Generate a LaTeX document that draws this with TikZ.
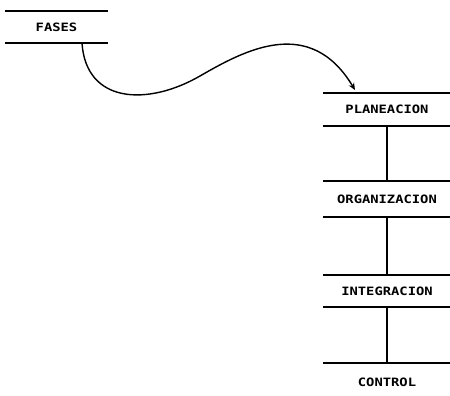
\documentclass[tikz,border=0pt]{standalone}
\usepackage{fontspec}
\newfontfamily\dfont{DejaVu Sans Mono}[FakeStretch=1.2]
\usetikzlibrary{arrows.meta}
\begin{document}
\begin{tikzpicture}[x=1pt,y=-1pt,
  phase/.style={inner sep=0pt,minimum width=127pt,minimum height=#1,
    font=\dfont\bfseries\fontsize{11.5}{13}\selectfont},
  rule/.style={line width=1.6pt},
  link/.style={line width=1.4pt}]
\useasboundingbox (0,0) rectangle (450,396);
\node[phase=32pt,minimum width=103pt] (fases) at (56.5,27) {FASES};
\node[phase=33pt] (plan) at (387,109.5) {PLANEACION};
\node[phase=36pt] (org) at (387,199) {ORGANIZACION};
\node[phase=32pt] (integ) at (387,291) {INTEGRACION};
\node[phase=38pt] (ctrl) at (387,382) {CONTROL};
\foreach \n in {fases,plan,org,integ}{
  \draw[rule] (\n.north west) -- (\n.north east);
  \draw[rule] (\n.south west) -- (\n.south east);
}
\draw[rule] (ctrl.north west) -- (ctrl.north east);
\draw[link] (plan.south) -- (org.north);
\draw[link] (org.south) -- (integ.north);
\draw[link] (integ.south) -- (ctrl.north);
\coordinate (start) at (82,43);
\coordinate (mid) at (200,76);
\coordinate (tip) at (355,90);
\draw[link,-{Stealth[length=7pt,width=6pt]}] (start) .. controls (86,104) and (148,106) .. (mid)
  .. controls (245,50) and (310,15) .. (tip);
\end{tikzpicture}
\end{document}
